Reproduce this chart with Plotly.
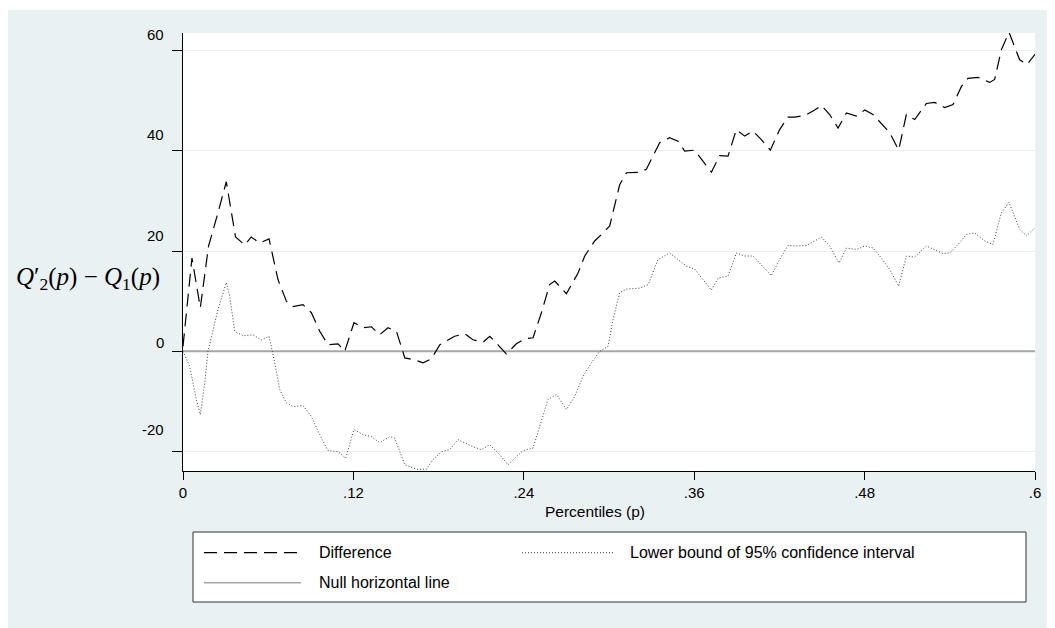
import plotly.graph_objects as go

# ---------------- data ----------------
p_diff = [0, 0.0063, 0.0122, 0.018, 0.0245, 0.0305, 0.037, 0.0435, 0.048, 0.054,
          0.0606, 0.0669, 0.0728, 0.0775, 0.0845, 0.0904, 0.0963, 0.1021, 0.1092, 0.1139,
          0.1204, 0.1268, 0.1327, 0.1385, 0.1444, 0.1503, 0.1562, 0.1632, 0.169, 0.1749,
          0.1808, 0.1913, 0.1984, 0.2042, 0.2113, 0.216, 0.2218, 0.2277, 0.2348, 0.2406,
          0.2465, 0.2524, 0.2582, 0.2618, 0.27, 0.2782, 0.2829, 0.2899, 0.2958, 0.3005,
          0.3075, 0.3123, 0.3216, 0.3263, 0.3357, 0.3427, 0.3486, 0.3533, 0.3603, 0.3721,
          0.3779, 0.3838, 0.3897, 0.3956, 0.4014, 0.4073, 0.4136, 0.4202, 0.426, 0.4308,
          0.4378, 0.4449, 0.4496, 0.4554, 0.4613, 0.4672, 0.4742, 0.4801, 0.4859, 0.4918,
          0.4977, 0.504, 0.5094, 0.5153, 0.5235, 0.5294, 0.5364, 0.5423, 0.5482, 0.5528,
          0.5599, 0.5681, 0.5716, 0.5763, 0.5817, 0.5892, 0.5944, 0.6]
difference = [1, 18.6, 8.7, 21, 27.5, 33.8, 22.8, 21.2, 22.8, 21.6,
              22.4, 14.3, 10, 8.9, 9.3, 7.7, 4.0, 1.3, 1.5, 0,
              5.7, 4.7, 4.9, 3.3, 4.7, 4.0, -1.3, -1.7, -2.3, -1.5,
              1.3, 3.0, 3.5, 2.3, 1.8, 3.0, 1.3, -0.5, 1.5, 2.5,
              2.7, 7.7, 13.3, 14.0, 11.5, 15.6, 19.0, 22, 23.6, 25,
              33.2, 35.6, 35.7, 36.3, 41.6, 42.6, 41.9, 39.9, 40.1, 35.7,
              39.0, 38.9, 44.2, 42.9, 43.9, 42.2, 40.1, 44.2, 46.7, 46.7,
              47.0, 48.1, 49.0, 47.2, 44.5, 47.5, 46.9, 48.1, 47.2, 45.3,
              43.6, 40.1, 47.2, 46.2, 49.4, 49.6, 48.6, 49.2, 52.8, 54.4,
              54.6, 53.6, 54.2, 60.1, 63.6, 58.1, 57.2, 59.2]

p_lower = [0, 0.0047, 0.0094, 0.0122, 0.0153, 0.0176, 0.0246, 0.0305, 0.0329, 0.0364,
           0.0423, 0.0493, 0.0552, 0.0606, 0.0646, 0.0681, 0.0728, 0.0775, 0.0845, 0.0904,
           0.0963, 0.1021, 0.1092, 0.1146, 0.1204, 0.1268, 0.1327, 0.1385, 0.1456, 0.1491,
           0.1562, 0.1644, 0.1714, 0.176, 0.182, 0.1878, 0.1937, 0.2042, 0.2101, 0.216,
           0.223, 0.2289, 0.2348, 0.2394, 0.2465, 0.2512, 0.257, 0.263, 0.27, 0.2758,
           0.2817, 0.2876, 0.2934, 0.2993, 0.3028, 0.3075, 0.3122, 0.3216, 0.3276, 0.3345,
           0.3427, 0.3486, 0.3545, 0.3603, 0.3662, 0.3721, 0.3768, 0.3838, 0.3897, 0.3956,
           0.4014, 0.4143, 0.4202, 0.426, 0.432, 0.439, 0.4449, 0.4496, 0.4554, 0.462,
           0.4672, 0.4742, 0.4801, 0.4859, 0.4918, 0.4977, 0.504, 0.5094, 0.5153, 0.5235,
           0.5352, 0.54, 0.5458, 0.5517, 0.5575, 0.5646, 0.5704, 0.5763, 0.5817, 0.5892,
           0.594, 0.6]
lower_bound = [0, -3, -9.6, -12.6, -6.3, 0, 8.3, 13.7, 11, 4.0,
               3.1, 3.3, 2.3, 3.0, -2.3, -7.6, -10.3, -11, -10.8, -13,
               -16.6, -19.8, -20, -21.3, -15.6, -16.6, -17, -18.2, -17, -17.3,
               -22.6, -23.5, -23.5, -21.6, -20, -19.6, -17.6, -19, -19.6, -18.6,
               -20.6, -22.6, -21, -19.8, -19.3, -15, -9.6, -8.6, -11.6, -9.0,
               -5.0, -2.3, 0, 1.0, 6.3, 11.7, 12.4, 12.6, 13.3, 18.3,
               19.6, 18.3, 17.0, 16.4, 14.3, 12.2, 14.6, 15.0, 19.6, 19.0,
               19.0, 15.1, 18.3, 21.1, 21.0, 21.1, 22.0, 22.8, 21.0, 17.6,
               20.6, 20.3, 21.0, 20.6, 18.6, 16.3, 13.0, 19.0, 18.8, 21.0,
               19.5, 19.6, 21.3, 23.3, 23.6, 22.0, 21.3, 27.6, 29.7, 24.3,
               23.0, 24.6]

null_level = [0, 0]
null_p = [0, 0.6]

x_ticks = [0, 0.12, 0.24, 0.36, 0.48, 0.6]
x_ticktext = ["0", ".12", ".24", ".36", ".48", ".6"]
y_ticks = [60, 40, 20, 0, -20]
y_ticktext = ["60", "40", "20", "0", "-20"]

series_names = ["Difference", "Lower bound of 95% confidence interval", "Null horizontal line"]
x_title = "Percentiles (p)"
y_title = "<i>Q</i>′<sub>2</sub>(<i>p</i>) − <i>Q</i><sub>1</sub>(<i>p</i>)"

# ---------------- styling ----------------
OFF = 8                      # page body margin in the browser
W, H = 1055 - OFF, 628 - OFF
ML, MR, MT, MB = 183 - OFF, 20, 33 - OFF, 157
PW, PH = W - ML - MR, H - MT - MB
BG = "#EAF1F3"
GRID = "#E6EEF0"
FONT = "Liberation Sans, Arial, sans-serif"
DASH_DIFF = "13px,7px"
DASH_LOW = "1px,2px"
COL_DIFF = "#000000"
COL_LOW = "#3a3a3a"
COL_NULL = "#a6a6a6"


def px_x(px):
    """page pixel x -> paper coordinate"""
    return (px - OFF - ML) / PW


def px_y(py):
    """page pixel y -> paper coordinate"""
    return (MT + PH - (py - OFF)) / PH


fig = go.Figure()
fig.add_trace(go.Scatter(x=null_p, y=null_level, mode="lines", name=series_names[2],
                         line=dict(color=COL_NULL, width=2), showlegend=False,
                         hoverinfo="skip"))
fig.add_trace(go.Scatter(x=p_lower, y=lower_bound, mode="lines", name=series_names[1],
                         line=dict(color=COL_LOW, width=1, dash=DASH_LOW), showlegend=False))
fig.add_trace(go.Scatter(x=p_diff, y=difference, mode="lines", name=series_names[0],
                         line=dict(color=COL_DIFF, width=1.2, dash=DASH_DIFF), showlegend=False))

shapes = [
    # plot region
    dict(type="rect", xref="paper", yref="paper", x0=0, x1=1, y0=0, y1=1,
         fillcolor="white", line=dict(width=0), layer="below"),
    # thin white strip at the very top (as in the reference)
    dict(type="rect", xref="paper", yref="paper", x0=px_x(0), x1=px_x(1060),
         y0=px_y(10), y1=px_y(0), fillcolor="white", line=dict(width=0), layer="below"),
    # legend box
    dict(type="rect", xref="paper", yref="paper", x0=px_x(193), x1=px_x(1026),
         y0=px_y(602), y1=px_y(532), fillcolor="white",
         line=dict(color="#333333", width=1), layer="above"),
    # legend keys
    dict(type="line", xref="paper", yref="paper", x0=px_x(204), x1=px_x(301),
         y0=px_y(552.7), y1=px_y(552.7), line=dict(color=COL_DIFF, width=1.2, dash=DASH_DIFF)),
    dict(type="line", xref="paper", yref="paper", x0=px_x(522), x1=px_x(615),
         y0=px_y(552.7), y1=px_y(552.7), line=dict(color=COL_LOW, width=1, dash=DASH_LOW)),
    dict(type="line", xref="paper", yref="paper", x0=px_x(204), x1=px_x(301),
         y0=px_y(582.7), y1=px_y(582.7), line=dict(color=COL_NULL, width=1.5)),
]

annotations = []
# y tick labels (sit slightly above their ticks, as in the reference)
y_label_shift = [16, 16, 16, 9, 22]
for v, t, s in zip(y_ticks, y_ticktext, y_label_shift):
    annotations.append(dict(x=px_x(166), xref="paper", y=v, yref="y", yshift=s,
                            text=t, showarrow=False, xanchor="right", yanchor="middle",
                            font=dict(family=FONT, size=15, color="#000")))
# axis titles
annotations.append(dict(x=px_x(595), y=px_y(511), xref="paper", yref="paper", text=x_title,
                        showarrow=False, xanchor="center", yanchor="middle",
                        font=dict(family=FONT, size=15.5, color="#000")))
annotations.append(dict(x=px_x(14), y=px_y(278), xref="paper", yref="paper", text=y_title,
                        showarrow=False, xanchor="left", yanchor="middle",
                        font=dict(family="Liberation Serif, DejaVu Serif, serif", size=25,
                                  color="#000")))
# legend labels
for name, lx, ly in zip(series_names, [316.7, 628.3, 316.7], [552.7, 552.7, 582.7]):
    annotations.append(dict(x=px_x(lx), y=px_y(ly), xref="paper", yref="paper", text=name,
                            showarrow=False, xanchor="left", yanchor="middle",
                            font=dict(family=FONT, size=16, color="#000")))

fig.update_layout(
    width=W, height=H,
    margin=dict(l=ML, r=MR, t=MT, b=MB, pad=0),
    paper_bgcolor=BG, plot_bgcolor="white",
    showlegend=False,
    shapes=shapes, annotations=annotations,
    xaxis=dict(range=[0, 0.6], tickvals=x_ticks, ticktext=x_ticktext,
               ticks="outside", ticklen=8, tickwidth=1, tickcolor="#000",
               showline=True, linecolor="#000", linewidth=1,
               showgrid=False, zeroline=False,
               tickfont=dict(family=FONT, size=15, color="#000")),
    yaxis=dict(range=[-23.85, 63.45], tickvals=y_ticks, showticklabels=False,
               ticks="outside", ticklen=10, tickwidth=1, tickcolor="#000",
               showline=True, linecolor="#000", linewidth=1,
               showgrid=True, gridcolor=GRID, gridwidth=1, zeroline=False),
)

fig.write_html("out.html")
